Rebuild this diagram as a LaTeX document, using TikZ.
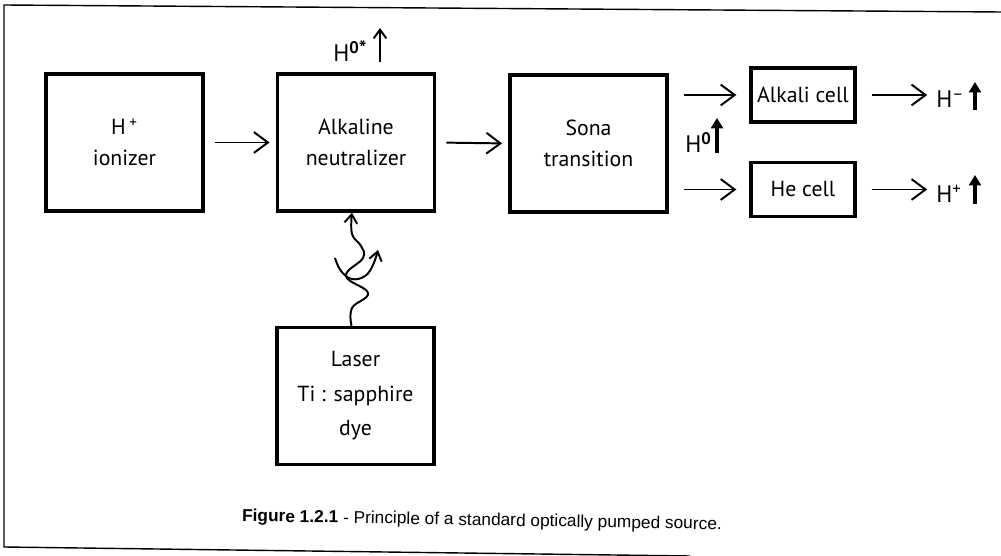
\documentclass[tikz,border=0pt]{standalone}
\usepackage{fontspec}
\setmainfont{PT Sans}
\newfontfamily\captionfont{Liberation Sans}
\usetikzlibrary{arrows.meta}

\begin{document}
\begin{tikzpicture}[x=0.025cm, y=-0.025cm,
    bloc/.style={draw, rectangle, line width=2.6pt, minimum width=3.93cm, minimum height=3.42cm, inner sep=0pt, align=center, font=\fontsize{15.5}{22}\selectfont},
    cell/.style={draw, rectangle, line width=2.6pt, minimum width=2.6cm, minimum height=1.35cm, inner sep=0pt, font=\fontsize{15.5}{22}\selectfont},
    beam/.style={line width=1.4pt, -{Straight Barb[length=3.5mm, width=5.2mm]}},
    photon/.style={line width=1.4pt, -{Straight Barb[length=2.2mm, width=3.2mm]}},
    spin/.style={line width=1mm, -{Triangle[length=2.6mm, width=3mm]}},
    lbl/.style={inner sep=0pt, anchor=base west, font=\fontsize{17}{20}\selectfont}]
    \useasboundingbox (0,0) rectangle (1001,556);
    \clip (0,0) rectangle (1001,556);

    % Cadre
    \draw[line width=1pt] (1001,12) -- (4,5) -- (4,547) -- (690,556);

    % Source d'ions
    \node[bloc] (ionizer) at (124.5,142.5) {H\,\textsuperscript{+}\\ionizer};

    % Neutralisation
    \node[bloc] (neutral) at (356,142.5) {Alkaline\\neutralizer};

    % Transition de Sona
    \node[bloc] (sona) at (588.5,143.5) {Sona\\transition};

    % Laser de pompage
    \node[bloc, font=\fontsize{15.5}{24.5}\selectfont] (laser) at (355.5,396) {Laser\\Ti : sapphire\\dye};

    % Cellules
    \node[cell] (alkali) at (803,95) {Alkali cell};
    \node[cell] (hecell) at (803,189.5) {He cell};

    % Etats de charge et de spin
    \node[lbl] (hexcited) at (333,62) {H\textsuperscript{\bfseries 0\raisebox{-0.25ex}{\Large*}}};
    \node[lbl] (hzero) at (685,153) {H\textsuperscript{\bfseries 0}};
    \node[lbl] (hminus) at (936,108) {H\textsuperscript{--}};
    \node[lbl] (hplus) at (936,203) {H\textsuperscript{+}};

    % Flèches principales
    \draw[beam, shorten <=0.25cm, shorten >=0.15cm] (ionizer.east) -- (neutral.west);
    \draw[beam, shorten <=0.25cm, shorten >=0.15cm] (neutral.east) -- (sona.west);
    \draw[beam, shorten <=0.37cm, shorten >=0.32cm] (sona.east |- alkali.west) -- (alkali.west);
    \draw[beam, shorten <=0.37cm, shorten >=0.32cm] (sona.east |- hecell.west) -- (hecell.west);
    \draw[beam, shorten <=0.37cm, shorten >=0.22cm] (alkali.east) -- (alkali.east -| hminus.west);
    \draw[beam, shorten <=0.37cm, shorten >=0.22cm] (hecell.east) -- (hecell.east -| hplus.west);

    % Spins
    \draw[photon] (380,62) -- (380,28);
    \draw[spin] (717,153) -- (717,118);
    \draw[spin] (975,110) -- (975,82);
    \draw[spin] (975,204) -- (975,175);

    % Photons
    \draw[photon] plot[smooth, tension=0.7] coordinates {([xshift=-1mm]laser.north) (352,308) (368,293) (346,276) (363,258) (361,246) (352,234) ([xshift=-1mm]neutral.south)};
    \draw[photon] plot[smooth, tension=0.7] coordinates {(335,258) (341,271) (352,279) (365,276) (373,265) (378,250)};

    % Légende
    \node[font=\captionfont\fontsize{12.3}{14}\selectfont, rotate=-1] (caption) at (482,521) {\textbf{Figure 1.2.1} - Principle of a standard optically pumped source.};

\end{tikzpicture}
\end{document}
